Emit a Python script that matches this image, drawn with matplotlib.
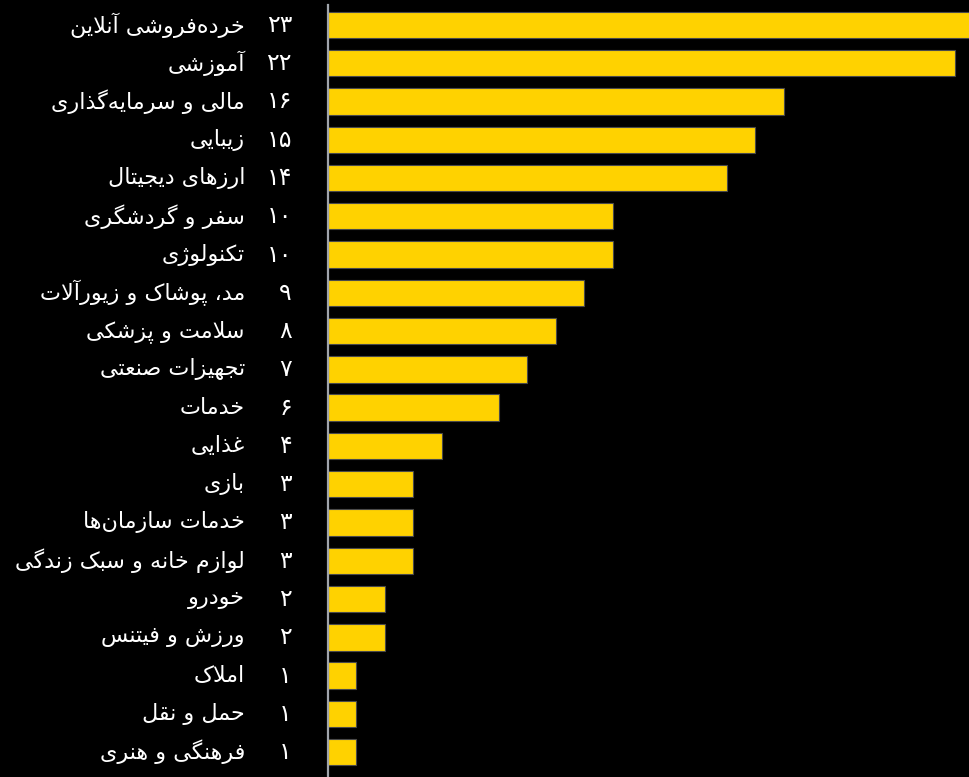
import matplotlib
matplotlib.use('Agg')
import matplotlib.pyplot as plt

categories = ['خرده‌فروشی آنلاین', 'آموزشی', 'مالی و سرمایه‌گذاری', 'زیبایی', 'ارزهای دیجیتال',
              'سفر و گردشگری', 'تکنولوژی', 'مد، پوشاک و زیورآلات', 'سلامت و پزشکی', 'تجهیزات صنعتی',
              'خدمات', 'غذایی', 'بازی', 'خدمات سازمان‌ها', 'لوازم خانه و سبک زندگی',
              'خودرو', 'ورزش و فیتنس', 'املاک', 'حمل و نقل', 'فرهنگی و هنری']
values = [23, 22, 16, 15, 14, 10, 10, 9, 8, 7, 6, 4, 3, 3, 3, 2, 2, 1, 1, 1]

# matplotlib has no arabic shaping, so pick presentation forms by hand
# (isolated, final, initial, medial)
FORMS = {
    'ا': ('\uFE8D', '\uFE8E', None, None),
    'آ': ('\uFE81', '\uFE82', None, None),
    'ب': ('\uFE8F', '\uFE90', '\uFE91', '\uFE92'),
    'پ': ('\uFB56', '\uFB57', '\uFB58', '\uFB59'),
    'ت': ('\uFE95', '\uFE96', '\uFE97', '\uFE98'),
    'ج': ('\uFE9D', '\uFE9E', '\uFE9F', '\uFEA0'),
    'ح': ('\uFEA1', '\uFEA2', '\uFEA3', '\uFEA4'),
    'خ': ('\uFEA5', '\uFEA6', '\uFEA7', '\uFEA8'),
    'د': ('\uFEA9', '\uFEAA', None, None),
    'ذ': ('\uFEAB', '\uFEAC', None, None),
    'ر': ('\uFEAD', '\uFEAE', None, None),
    'ز': ('\uFEAF', '\uFEB0', None, None),
    'ژ': ('\uFB8A', '\uFB8B', None, None),
    'س': ('\uFEB1', '\uFEB2', '\uFEB3', '\uFEB4'),
    'ش': ('\uFEB5', '\uFEB6', '\uFEB7', '\uFEB8'),
    'ص': ('\uFEB9', '\uFEBA', '\uFEBB', '\uFEBC'),
    'ع': ('\uFEC9', '\uFECA', '\uFECB', '\uFECC'),
    'غ': ('\uFECD', '\uFECE', '\uFECF', '\uFED0'),
    'ف': ('\uFED1', '\uFED2', '\uFED3', '\uFED4'),
    'ق': ('\uFED5', '\uFED6', '\uFED7', '\uFED8'),
    'ک': ('\uFB8E', '\uFB8F', '\uFB90', '\uFB91'),
    'گ': ('\uFB92', '\uFB93', '\uFB94', '\uFB95'),
    'ل': ('\uFEDD', '\uFEDE', '\uFEDF', '\uFEE0'),
    'م': ('\uFEE1', '\uFEE2', '\uFEE3', '\uFEE4'),
    'ن': ('\uFEE5', '\uFEE6', '\uFEE7', '\uFEE8'),
    'ه': ('\uFEE9', '\uFEEA', '\uFEEB', '\uFEEC'),
    'و': ('\uFEED', '\uFEEE', None, None),
    'ی': ('\uFBFC', '\uFBFD', '\uFBFE', '\uFBFF'),
}
LAM_ALEF = {'ا': ('\uFEFB', '\uFEFC'), 'آ': ('\uFEF5', '\uFEF6')}


def shape(s):
    out = []
    i = 0
    while i < len(s):
        c = s[i]
        if c not in FORMS:
            if c != '\u200c':
                out.append(c)
            i += 1
            continue
        prev = s[i - 1] if i > 0 else None
        joined = prev in FORMS and FORMS[prev][2] is not None
        if c == 'ل' and i + 1 < len(s) and s[i + 1] in LAM_ALEF:
            out.append(LAM_ALEF[s[i + 1]][1 if joined else 0])
            i += 2
            continue
        nxt = s[i + 1] if i + 1 < len(s) else None
        iso, fin, ini, med = FORMS[c]
        links = ini is not None and nxt in FORMS
        if joined and links:
            out.append(med)
        elif joined:
            out.append(fin)
        elif links:
            out.append(ini)
        else:
            out.append(iso)
        i += 1
    return ''.join(reversed(out))


def fa_digits(n):
    return str(n).translate(str.maketrans('0123456789', '۰۱۲۳۴۵۶۷۸۹'))


fig = plt.figure(figsize=(9.7, 7.77), dpi=100, facecolor='black')
ax = fig.add_axes((328 / 970, 0, 1 - 328 / 970, 1 - 5 / 777))
ax.set_facecolor('black')

pos = list(range(len(categories)))
ax.barh(pos, values, height=0.69, color='#FFD200', edgecolor='#4a4a4a', linewidth=0.8)
ax.set_xlim(0, 22.53)
ax.set_ylim(19.65, -0.52)

for p, cat, v in zip(pos, categories, values):
    ax.annotate(fa_digits(v), xy=(0, p), xycoords='data', xytext=(-36, 0), textcoords='offset pixels',
                ha='right', va='center', color='white', fontsize=17, family='DejaVu Sans')
    ax.annotate(shape(cat), xy=(0, p), xycoords='data', xytext=(-83, 0), textcoords='offset pixels',
                ha='right', va='center', color='white', fontsize=16, family='DejaVu Sans')

for side in ['top', 'right', 'bottom']:
    ax.spines[side].set_visible(False)
ax.spines['left'].set_color('#a0a4ab')
ax.spines['left'].set_linewidth(1.6)
ax.set_xticks([])
ax.set_yticks([])

fig.savefig('out.png', dpi=100, facecolor='black')
